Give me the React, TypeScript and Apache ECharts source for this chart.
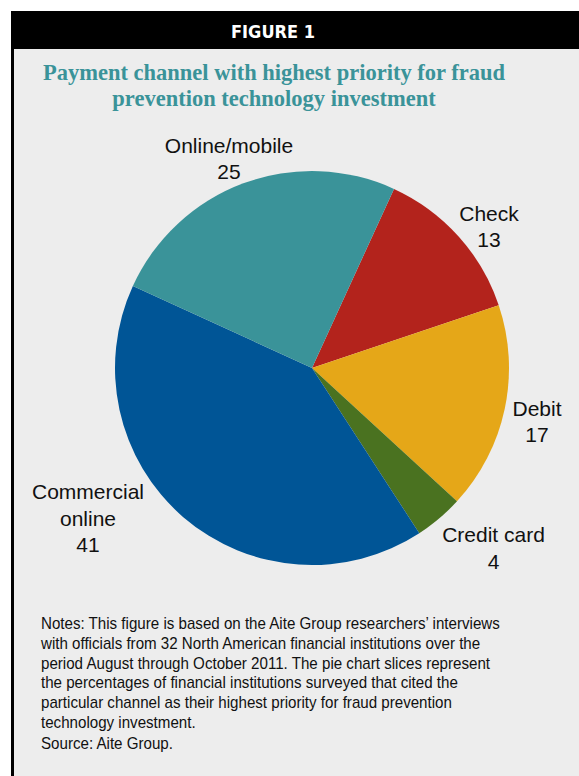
import React, { useEffect, useRef } from "react";
import * as echarts from "echarts";

const categories = ["Check", "Debit", "Credit card", "Commercial online", "Online/mobile"];
const values = [13, 17, 4, 41, 25];
const colors = ["#b3231c", "#e5a718", "#4a7220", "#005596", "#3a9399"];

const headerText = "FIGURE 1";
const titleText = "Payment channel with highest priority for fraud\nprevention technology investment";
const notesLines = [
  "Notes: This figure is based on the Aite Group researchers\u2019 interviews",
  "with officials from 32 North American financial institutions over the",
  "period August through October 2011. The pie chart slices represent",
  "the percentages of financial institutions surveyed that cited the",
  "particular channel as their highest priority for fraud prevention",
  "technology investment.",
];
const sourceText = "Source: Aite Group.";

// label anchor layout (centre of each label block), by data index
const labelAnchors: [number, number][] = [
  [489, 226.5],
  [537, 421.5],
  [493.5, 548],
  [88, 518],
  [229, 158.5],
];

export default function App() {
  const ref = useRef<HTMLDivElement>(null);
  useEffect(() => {
    document.body.style.margin = "0";
    const chart = echarts.init(ref.current!, null, { renderer: "svg" });
    chart.setOption({
      animation: false,
      backgroundColor: "#ffffff",
      graphic: [
        { type: "rect", shape: { x: 11, y: 11, width: 568, height: 765 }, style: { fill: "#000000" }, z: 0 },
        { type: "rect", shape: { x: 14, y: 49, width: 565, height: 727 }, style: { fill: "#ededed" }, z: 1 },
        {
          type: "text",
          x: 273,
          y: 31,
          z: 2,
          style: {
            text: headerText,
            fill: "#ffffff",
            font: 'bold 18px "DejaVu Sans Condensed", "DejaVu Sans", sans-serif',
            align: "center",
            verticalAlign: "middle",
          },
        },
        {
          type: "text",
          x: 274,
          y: 85,
          z: 2,
          style: {
            text: titleText,
            fill: "#3a9399",
            font: 'bold 22.5px "Liberation Serif", "Times New Roman", serif',
            lineHeight: 26,
            align: "center",
            verticalAlign: "middle",
          },
        },
        {
          type: "text",
          x: 41,
          y: 613,
          z: 2,
          scaleX: 0.89,
          style: {
            text: notesLines.join("\n"),
            fill: "#111111",
            font: '17px "Liberation Sans", Arial, sans-serif',
            lineHeight: 19.7,
            align: "left",
            verticalAlign: "top",
          },
        },
        {
          type: "text",
          x: 41,
          y: 743,
          z: 2,
          scaleX: 0.89,
          style: {
            text: sourceText,
            fill: "#111111",
            font: '17px "Liberation Sans", Arial, sans-serif',
            align: "left",
            verticalAlign: "middle",
          },
        },
      ],
      series: [
        {
          type: "pie",
          center: [312, 368],
          radius: [0, 197],
          startAngle: 65.4,
          clockwise: true,
          z: 3,
          itemStyle: { borderWidth: 0 },
          emphasis: { disabled: true },
          label: {
            show: true,
            position: "inside",
            overflow: "none",
            color: "#111111",
            fontSize: 21,
            lineHeight: 26.5,
            fontFamily: '"Liberation Sans", Arial, sans-serif',
            align: "center",
            formatter: (p: any) =>
              (p.name === "Commercial online" ? "Commercial\nonline" : p.name) + "\n" + p.value,
          },
          labelLine: { show: false },
          labelLayout: (p: any) => {
            const a = labelAnchors[p.dataIndex];
            return { x: a[0], y: a[1], align: "center", verticalAlign: "middle" };
          },
          data: categories.map((c, i) => ({ name: c, value: values[i], itemStyle: { color: colors[i] } })),
        },
      ],
    });
    return () => chart.dispose();
  }, []);
  return <div ref={ref} style={{ position: "absolute", left: 0, top: 0, width: 579, height: 776 }} />;
}
